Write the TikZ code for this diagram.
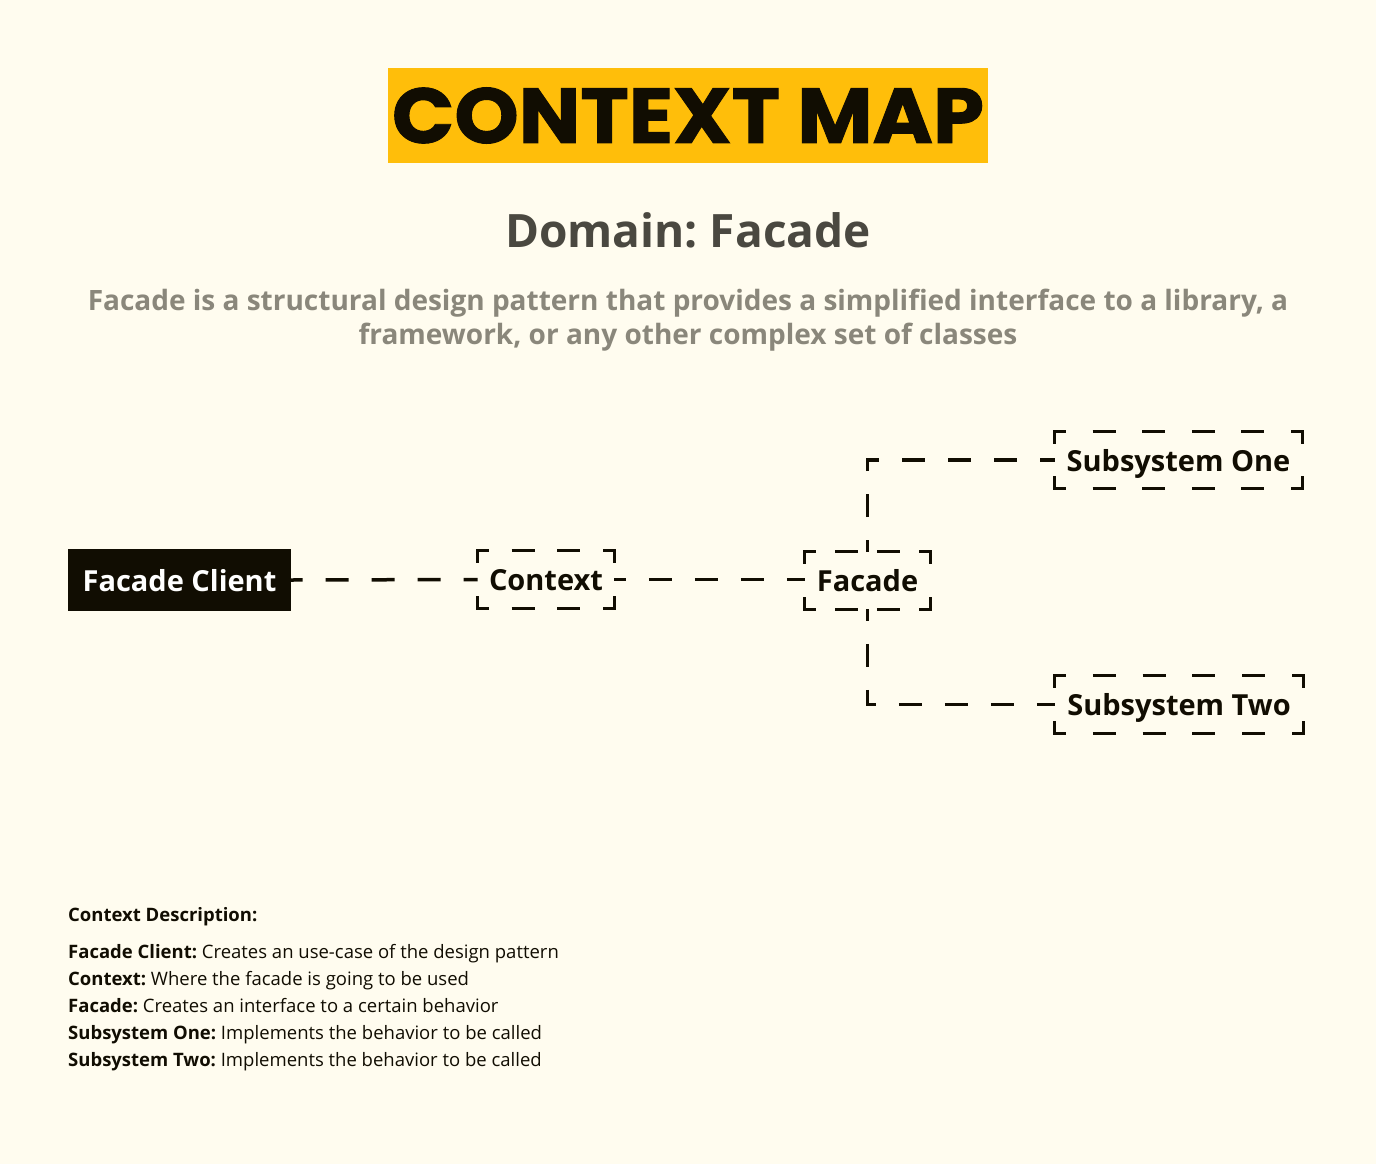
\documentclass[tikz,border=0pt]{standalone}
\usepackage{fontspec}
\usetikzlibrary{calc}
\setmainfont{Open Sans}
\newfontfamily\titlefont{Poppins}[BoldFeatures={FakeBold=1.2}]
\definecolor{bgcol}{HTML}{FFFCEF}
\definecolor{amber}{HTML}{FFBE0A}
\definecolor{ink}{HTML}{110D02}
\definecolor{domaincol}{HTML}{4A4840}
\definecolor{desccol}{HTML}{8A877B}
\tikzset{
  ctxbox/.style={draw=none, inner sep=0pt, text depth=0pt, font=\fontsize{29}{33}\selectfont\bfseries, text=ink},
  corner/.style={draw=ink, line width=3.5pt, line join=miter},
  link/.style={draw=ink, line width=3.5pt, dash pattern=on 23pt off 23pt, dash phase=11.5pt},
  legend/.style={anchor=base west, inner sep=0pt, font=\fontsize{18.5}{22}\selectfont, text=ink}
}
\newcommand{\dashframe}[2]{%
  \draw[corner] ($(#1.north west)+(0,12)$) -- (#1.north west) -- ($(#1.north west)+(11,0)$);
  \draw[corner] ($(#1.north east)+(0,12)$) -- (#1.north east) -- ($(#1.north east)+(-11,0)$);
  \draw[corner] ($(#1.south west)+(0,-12)$) -- (#1.south west) -- ($(#1.south west)+(11,0)$);
  \draw[corner] ($(#1.south east)+(0,-12)$) -- (#1.south east) -- ($(#1.south east)+(-11,0)$);
  \foreach \k in {1,...,#2}{
    \draw[corner] ($(#1.north west)!{\k/(#2+1)}!(#1.north east)+(-11.5,0)$) -- ++(23,0);
    \draw[corner] ($(#1.south west)!{\k/(#2+1)}!(#1.south east)+(-11.5,0)$) -- ++(23,0);
  }
}
\begin{document}
\frenchspacing
\begin{tikzpicture}[x=1pt,y=-1pt]
\fill[bgcol] (0,0) rectangle (1376,1164);
\useasboundingbox (0,0) rectangle (1376,1164);
% title
\node[fill=amber, minimum width=600pt, minimum height=95pt, inner sep=0pt, text=ink,
  font=\titlefont\fontsize{78}{80}\selectfont\bfseries] (title) at (688,115.5) {\scalebox{1.05}[1]{CONTEXT MAP}};
\node[anchor=base, inner sep=0pt, text=domaincol, font=\fontsize{46}{50}\selectfont\bfseries] (domain) at (688,247) {Domain: Facade};
\node[anchor=base, inner sep=0pt, text=desccol, font=\fontsize{28}{32}\selectfont\bfseries] (desc1) at (688,310)
  {Facade is a structural design pattern that provides a simplified interface to a library, a};
\node[anchor=base, inner sep=0pt, text=desccol, font=\fontsize{28}{32}\selectfont\bfseries] (desc2) at (688,344)
  {framework, or any other complex set of classes};
% nodes
\node[fill=ink, text=white, minimum width=223pt, minimum height=62pt, inner sep=0pt, text depth=0pt,
  font=\fontsize{29}{33}\selectfont\bfseries] (client) at (179.5,580) {Facade Client};
\node[ctxbox, minimum width=136.5pt, minimum height=57.5pt] (context) at (546,579.5) {Context};
\node[ctxbox, minimum width=125.5pt, minimum height=57.5pt] (facade) at (867.5,580.5) {Facade};
\node[ctxbox, minimum width=247.5pt, minimum height=56.5pt] (sub1) at (1178.5,460) {Subsystem One};
\node[ctxbox, minimum width=248.5pt, minimum height=57.5pt] (sub2) at (1179,704.5) {Subsystem Two};
\dashframe{context}{2}
\dashframe{facade}{2}
\dashframe{sub1}{4}
\dashframe{sub2}{4}
% connectors
\draw[link] (client.east) -- (context.west);
\draw[link] (context.east) -- (facade.west |- context.east);
\draw[link] (facade.north) |- (sub1.west);
\draw[link] (facade.south) |- (sub2.west);
% legend
\node[legend] (lh) at (68,921) {\bfseries Context Description:};
\node[legend] (l1) at (68,958) {\textbf{Facade Client:} Creates an use-case of the design pattern};
\node[legend] (l2) at (68,985) {\textbf{Context:} Where the facade is going to be used};
\node[legend] (l3) at (68,1012) {\textbf{Facade:} Creates an interface to a certain behavior};
\node[legend] (l4) at (68,1039) {\textbf{Subsystem One:} Implements the behavior to be called};
\node[legend] (l5) at (68,1066) {\textbf{Subsystem Two:} Implements the behavior to be called};
\end{tikzpicture}
\end{document}
